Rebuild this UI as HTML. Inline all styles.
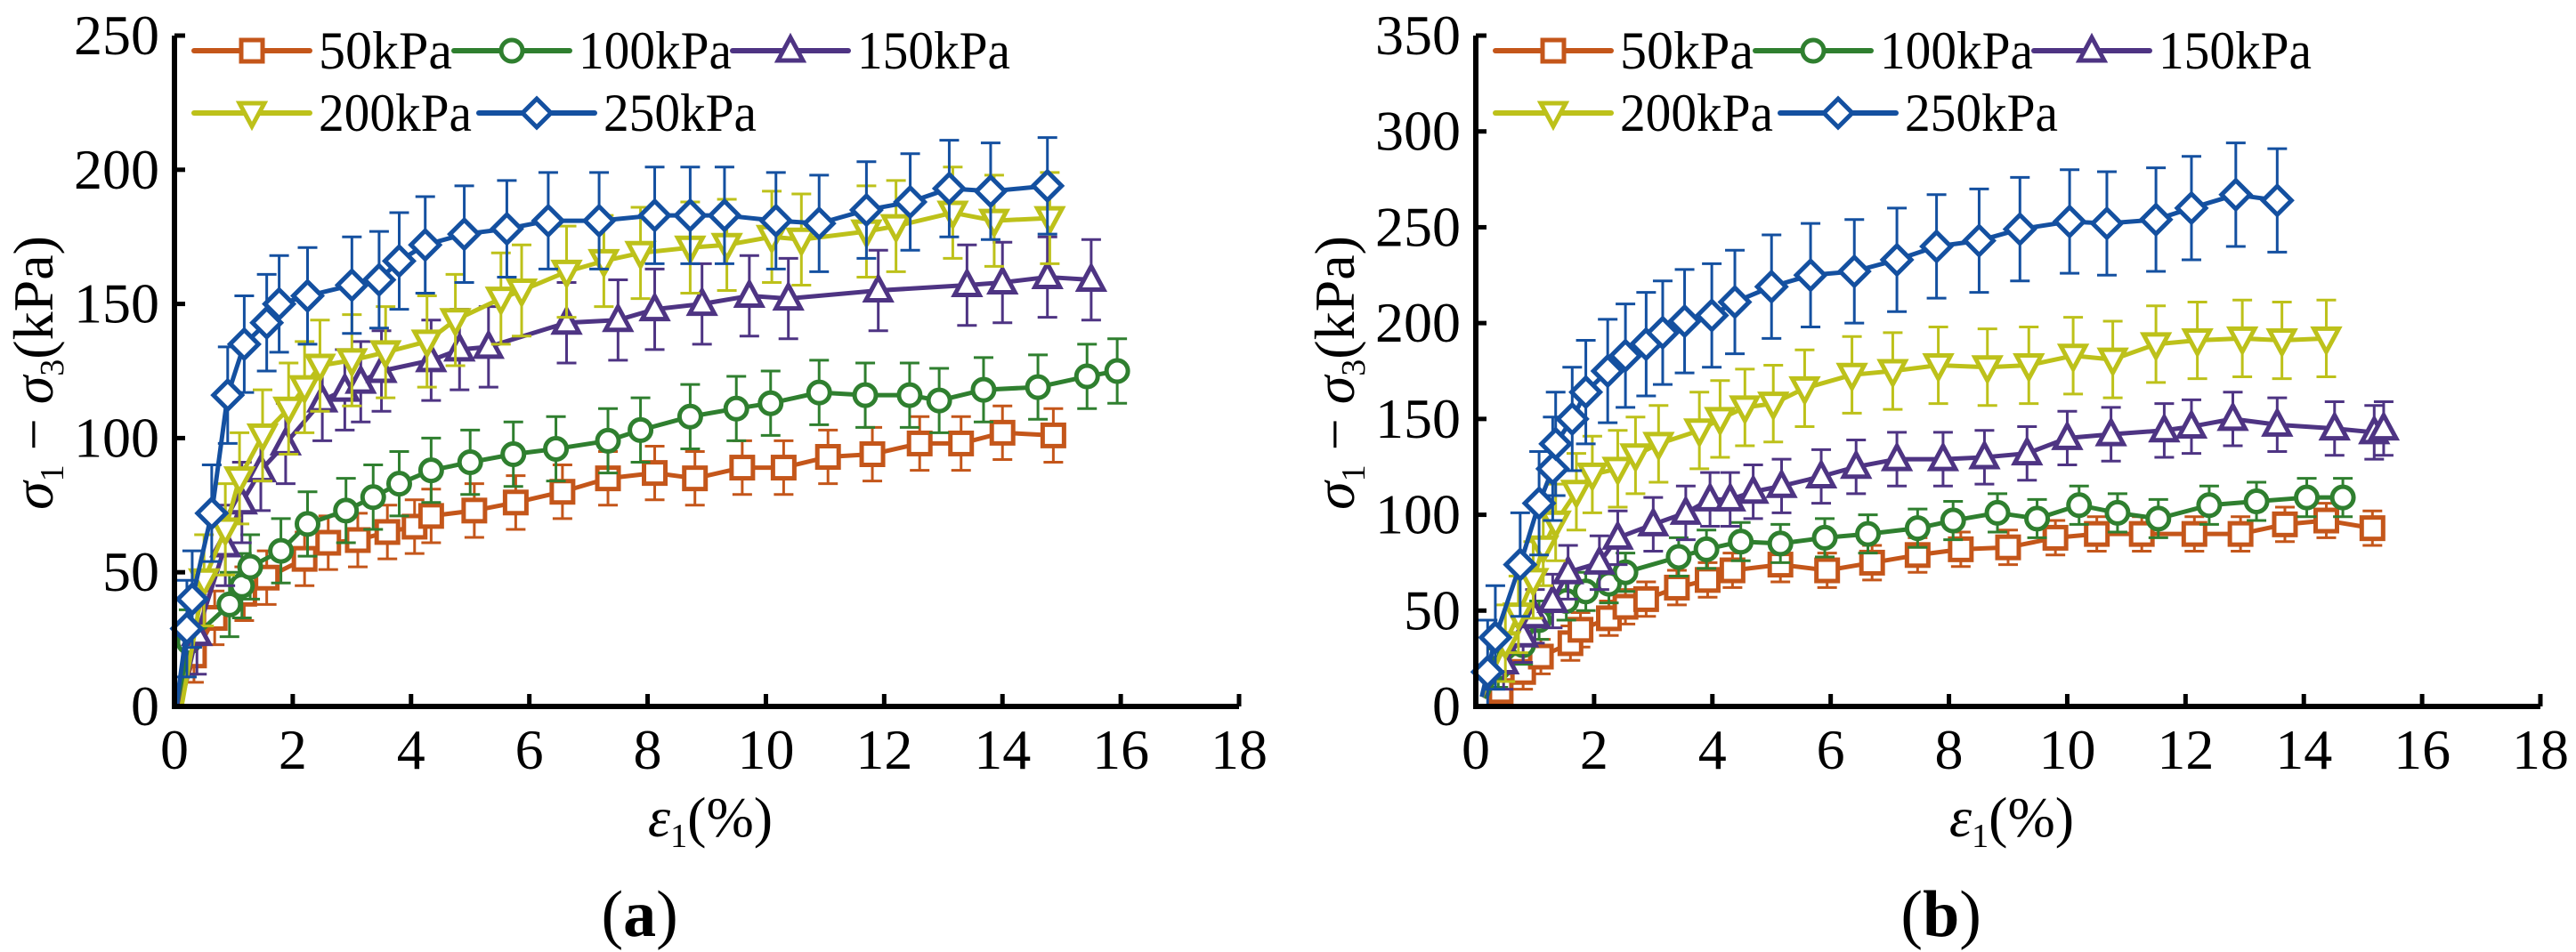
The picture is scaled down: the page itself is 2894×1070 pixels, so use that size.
<!DOCTYPE html>
<html><head><meta charset="utf-8">
<style>
html,body{margin:0;padding:0;background:#fff;}
svg{display:block;}
.t{font-family:"Liberation Serif","Times New Roman",Times,"DejaVu Serif",serif;fill:#000;}
</style></head>
<body>
<svg id="fig" width="2894" height="1070" viewBox="0 0 2894 1070" xmlns="http://www.w3.org/2000/svg">
<rect x="0" y="0" width="2894" height="1070" fill="#fff"/>
</svg>
<script>
// ---------- data: panel (a) ----------
const aX50  = [0.1,0.33,0.68,1.18,1.56,2.2,2.6,3.1,3.6,4.06,4.34,5.07,5.77,6.56,7.33,8.12,8.8,9.6,10.3,11.05,11.8,12.6,13.3,14.0,14.86];
const aY50  = [2,19,33,42,48,55,61,62,65,67,71,73,76,80,85,87,85,89,89,93,94,98,98,102,101];
const aX100 = [0.1,0.24,0.93,1.14,1.28,1.8,2.25,2.9,3.36,3.8,4.34,5.0,5.73,6.45,7.33,7.88,8.72,9.5,10.08,10.9,11.68,12.43,12.93,13.68,14.6,15.43,15.94];
const aY100 = [0,24,38,45,52,58,68,73,78,83,88,91,94,96,99,103,108,111,113,117,116,116,114,118,119,123,125];
const aX150 = [0.1,0.38,0.86,1.14,1.46,1.88,2.5,2.88,3.15,3.5,4.34,4.82,5.31,6.63,7.5,8.12,8.92,9.72,10.38,11.9,13.4,14.0,14.76,15.5];
const aY150 = [0,27,60,76,88,98,114,118,121,125,129,133,134,143,144,148,150,153,152,155,157,158,160,159];
const aX200 = [0.12,0.5,0.86,1.1,1.49,1.93,2.2,2.46,3.0,3.57,4.27,4.75,5.52,5.87,6.63,7.26,7.88,8.72,9.34,10.1,10.6,11.7,12.2,13.16,13.86,14.8];
const aY200 = [0,47,66,85,101,111,119,127,129,132,136,144,152,155,162,166,169,171,172,175,174,177,179,184,181,182];
const aX250 = [0.03,0.21,0.3,0.63,0.9,1.18,1.56,1.77,2.25,3.0,3.46,3.8,4.24,4.9,5.62,6.32,7.18,8.12,8.72,9.3,10.17,10.9,11.7,12.44,13.1,13.8,14.76];
const aY250 = [0,29,40,72,116,135,143,150,153,157,159,166,172,176,178,181,181,183,183,183,181,180,185,188,193,192,194];
// ---------- data: panel (b) ----------
const bX50  = [0.14,0.42,0.8,1.1,1.6,1.77,2.25,2.53,2.88,3.4,3.92,4.34,5.15,5.94,6.7,7.47,8.2,9.0,9.8,10.5,11.26,12.15,12.93,13.68,14.38,15.16];
const bY50  = [5,8,18,26,33,40,46,52,56,62,66,71,74,71,75,79,82,83,88,90,90,90,90,95,97,93];
const bX100 = [0.17,0.38,0.8,1.07,1.53,1.86,2.25,2.53,3.43,3.9,4.48,5.15,5.9,6.63,7.47,8.07,8.82,9.49,10.2,10.85,11.54,12.4,13.2,14.05,14.66];
const bY100 = [4,20,32,45,55,60,64,70,78,82,86,85,88,90,93,97,101,98,105,101,98,105,107,109,109];
const bX150 = [0.1,0.47,0.8,1.0,1.3,1.56,2.09,2.4,3.0,3.55,3.96,4.3,4.69,5.17,5.84,6.43,7.12,7.9,8.6,9.32,10.0,10.74,11.64,12.1,12.8,13.55,14.52,15.19,15.35];
const bY150 = [5,23,37,47,55,70,75,88,95,101,108,108,112,115,120,125,129,129,130,132,140,142,144,146,150,147,145,143,145];
const bX200 = [0.1,0.5,0.72,0.97,1.14,1.35,1.7,1.97,2.4,2.7,3.09,3.78,4.13,4.55,5.03,5.56,6.36,7.05,7.82,8.65,9.35,10.1,10.77,11.5,12.2,12.96,13.63,14.38];
const bY200 = [5,33,48,66,83,96,112,121,124,131,137,144,150,156,158,166,173,175,178,177,178,183,181,189,191,192,191,192];
const bX250 = [0.1,0.2,0.33,0.75,1.07,1.3,1.35,1.63,1.86,2.23,2.53,2.88,3.16,3.53,3.99,4.38,5.0,5.66,6.4,7.12,7.79,8.51,9.2,10.04,10.67,11.5,12.1,12.85,13.55];
const bY250 = [5,18,36,74,106,124,137,150,164,175,183,189,195,201,204,211,219,225,227,233,240,243,249,253,252,254,260,267,264];
// error magnitudes (kPa)
const aErr = [10,12,15,17,18];
const bErr = [9,10,14,20,27];
const seriesNames = ["50kPa","100kPa","150kPa","200kPa","250kPa"];
const xTicks = [0,2,4,6,8,10,12,14,16,18];
const aYTicks = [0,50,100,150,200,250];
const bYTicks = [0,50,100,150,200,250,300,350];

const colors = ["#C4561A","#2F7F2F","#4E3483","#BDC11A","#1450A0"];
const markers = ["square","circle","triangle","tridown","diamond"];
const NS = "http://www.w3.org/2000/svg";
const svg = document.getElementById("fig");

function el(tag, attrs, parent){
  const e = document.createElementNS(NS, tag);
  for (const k in attrs) e.setAttribute(k, attrs[k]);
  if (tag === "text") e.setAttribute("class", "t");
  (parent||svg).appendChild(e);
  return e;
}
function marker(type, cx, cy, col, g){
  const s = 12; let m;
  if (type==="square") m = el("rect",{x:cx-s,y:cy-s,width:2*s,height:2*s},g);
  else if (type==="circle") m = el("circle",{cx:cx,cy:cy,r:s},g);
  else if (type==="triangle") m = el("polygon",{points:`${cx},${cy-15} ${cx+14},${cy+11} ${cx-14},${cy+11}`},g);
  else if (type==="tridown") m = el("polygon",{points:`${cx},${cy+15} ${cx+14},${cy-11} ${cx-14},${cy-11}`},g);
  else m = el("polygon",{points:`${cx},${cy-16} ${cx+16},${cy} ${cx},${cy+16} ${cx-16},${cy}`},g);
  m.setAttribute("fill","#fff"); m.setAttribute("stroke",col); m.setAttribute("stroke-width","5");
  return m;
}

function panel(opt){
  const {id,x0,x1,y0,y1,ymax,yTicks,xs,ys,errs,label} = opt;
  const g = el("g",{});
  
  
  const X = v => x0 + (x1-x0)*v/18;
  const Y = v => y0 - (y0-y1)*v/ymax;
  for (let s=0;s<5;s++){
    const sg = el("g",{},g);
    
    
    const xv = xs[s], yv = ys[s], col = colors[s];
    for (let i=1;i<xv.length;i++){
      const px = X(xv[i]), e = errs[s];
      const lo = Math.max(0, yv[i]-e);
      const eb = el("path",{d:`M${px},${Y(lo)}V${Y(yv[i]+e)}M${px-11},${Y(lo)}h22M${px-11},${Y(yv[i]+e)}h22`,stroke:col,"stroke-width":3,fill:"none"},sg);
      
      
    }
    const pts = xv.map((v,i)=>X(v)+","+Y(yv[i])).join(" ");
    const ln = el("polyline",{points:pts,fill:"none",stroke:col,"stroke-width":5,"stroke-linejoin":"round"},sg);
    
    
    for (let i=1;i<xv.length;i++){
      const m = marker(markers[s], X(xv[i]), Y(yv[i]), col, sg);
      
      
    }
  }
  const ax = el("path",{d:`M${x0},${y1}V${y0}H${x1}`,stroke:"#000","stroke-width":6,fill:"none"},g);
  
  
  el("path",{d:`M${x0},${y1}h12`,stroke:"#000","stroke-width":5},g);
  for (const t of xTicks){
    const px = X(t);
    if (t>0) el("path",{d:`M${px},${y0}v-14`,stroke:"#000","stroke-width":5},g);
    const tx = el("text",{x:px,y:y0+70,"font-size":64,"text-anchor":"middle"},g);
    tx.textContent = t;
    
    
  }
  for (const t of yTicks){
    const py = Y(t);
    if (t>0) el("path",{d:`M${x0},${py}h12`,stroke:"#000","stroke-width":5},g);
    const ty = el("text",{x:x0-17,y:py+21,"font-size":64,"text-anchor":"end"},g);
    ty.textContent = t;
    
    
  }
  const yt = el("text",{transform:`translate(${x0-137},${(y0+y1)/2+2}) rotate(-90)`,"font-size":64,"text-anchor":"middle"},g);
  
  
  yt.innerHTML = '<tspan font-style="italic">σ</tspan><tspan font-size="38" dy="12">1</tspan><tspan dy="-12"> − </tspan><tspan font-style="italic">σ</tspan><tspan font-size="38" dy="12">3</tspan><tspan dy="-12">(kPa)</tspan>';
  const xt = el("text",{x:x0+(x1-x0)*0.5+4,y:y0+146,"font-size":64,"text-anchor":"middle"},g);
  
  
  xt.innerHTML = '<tspan font-style="italic">ε</tspan><tspan font-size="38" dy="12">1</tspan><tspan dy="-12">(%)</tspan>';
  const pl = el("text",{x:x0+(x1-x0)*0.437,y:y0+258,"font-size":74,"text-anchor":"middle"},g);
  
  
  pl.innerHTML = '(<tspan font-weight="bold">'+label+'</tspan>)';
  const lg = el("g",{},g);
  
  
  const pos = [[22,57],[314,57],[627,57],[22,127],[342,127]];
  for (let s=0;s<5;s++){
    const lx = x0+pos[s][0], ly = pos[s][1];
    const le = el("g",{},lg);
    
    
    el("line",{x1:lx,y1:ly,x2:lx+130,y2:ly,stroke:colors[s],"stroke-width":6,"stroke-linecap":"round"},le);
    marker(markers[s], lx+65, ly, colors[s], le);
    const tt = el("text",{x:lx+140,y:ly+20,"font-size":60,textLength:(s===0?150:172),lengthAdjust:"spacingAndGlyphs"},le);
    tt.textContent = seriesNames[s];
  }
}

panel({id:"panel-a",x0:196,x1:1392,y0:794,y1:40,ymax:250,yTicks:aYTicks,
  xs:[aX50,aX100,aX150,aX200,aX250],ys:[aY50,aY100,aY150,aY200,aY250],errs:aErr,label:"a"});
panel({id:"panel-b",x0:1658,x1:2854,y0:794,y1:40,ymax:350,yTicks:bYTicks,
  xs:[bX50,bX100,bX150,bX200,bX250],ys:[bY50,bY100,bY150,bY200,bY250],errs:bErr,label:"b"});
</script>
</body></html>
